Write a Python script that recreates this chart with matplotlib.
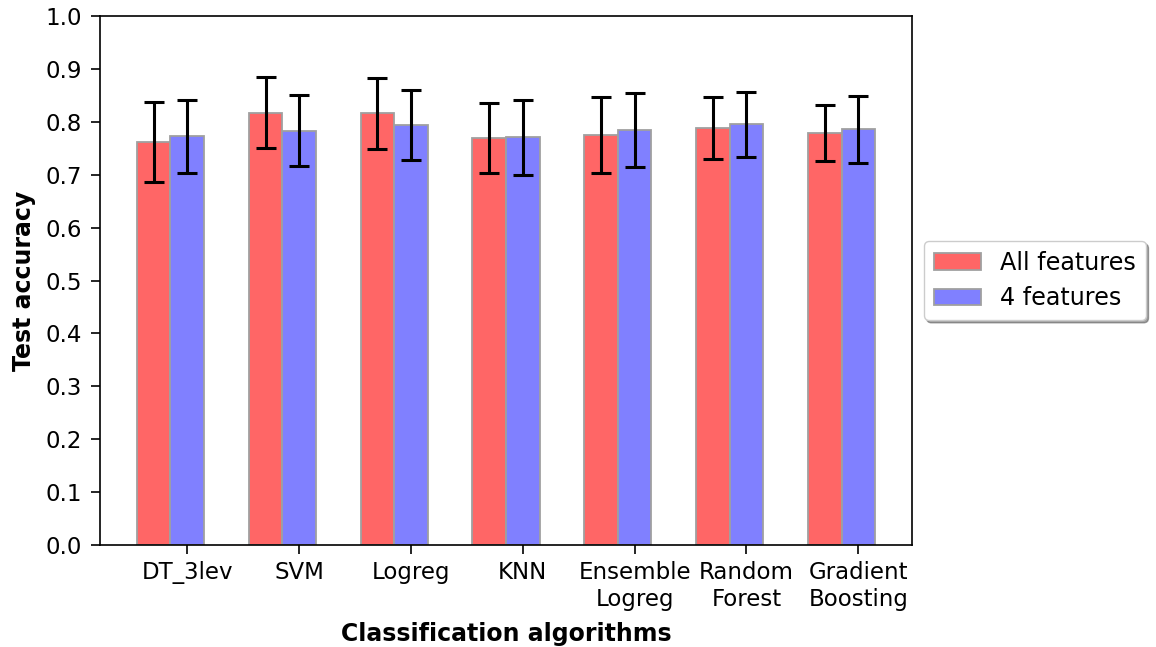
import numpy as np
import matplotlib
matplotlib.use("Agg")
import matplotlib.pyplot as plt

algorithms = ["DT_3lev", "SVM", "Logreg", "KNN", "Ensemble\nLogreg",
              "Random\nForest", "Gradient\nBoosting"]
acc_all = [0.762, 0.817, 0.816, 0.769, 0.775, 0.788, 0.778]
err_all = [0.075, 0.067, 0.067, 0.066, 0.072, 0.059, 0.053]
acc_four = [0.773, 0.783, 0.794, 0.771, 0.784, 0.795, 0.786]
err_four = [0.069, 0.067, 0.066, 0.071, 0.070, 0.061, 0.063]

fig = plt.figure(figsize=(11.56, 6.47), dpi=100)
ax = fig.add_axes([100 / 1156, 1 - 545 / 647, 812 / 1156, 529 / 647])

x = np.arange(len(algorithms))
w = 0.3
err_kw = dict(elinewidth=2.2, capthick=2.2, ecolor="black")
ax.bar(x, acc_all, w, yerr=err_all, capsize=7, color="#ff6666",
       edgecolor="#a0a0a0", linewidth=1.3, error_kw=err_kw, label="All features")
ax.bar(x + w, acc_four, w, yerr=err_four, capsize=7, color="#8080ff",
       edgecolor="#a0a0a0", linewidth=1.3, error_kw=err_kw, label="4 features")

for side in ax.spines.values():
    side.set_linewidth(1.2)

ax.set_ylim(0, 1.0)
ax.set_yticks(np.arange(0, 1.01, 0.1))
ax.set_yticklabels([f"{v:.1f}" for v in np.arange(0, 1.01, 0.1)])
ax.set_xticks(x + w)
ax.set_xticklabels(algorithms)
ax.tick_params(labelsize=16.5, length=6.5, width=1.2, pad=5)
ax.tick_params(axis="y", pad=6.5)
ax.set_xlabel("Classification algorithms", fontsize=17, fontweight="bold",
              labelpad=8)
ax.set_ylabel("Test accuracy", fontsize=17, fontweight="bold", labelpad=7)

ax.legend(loc="center left", bbox_to_anchor=(1.0, 0.5), shadow=True,
          fontsize=17.2, fancybox=True)

fig.savefig("out.png", dpi=100)
